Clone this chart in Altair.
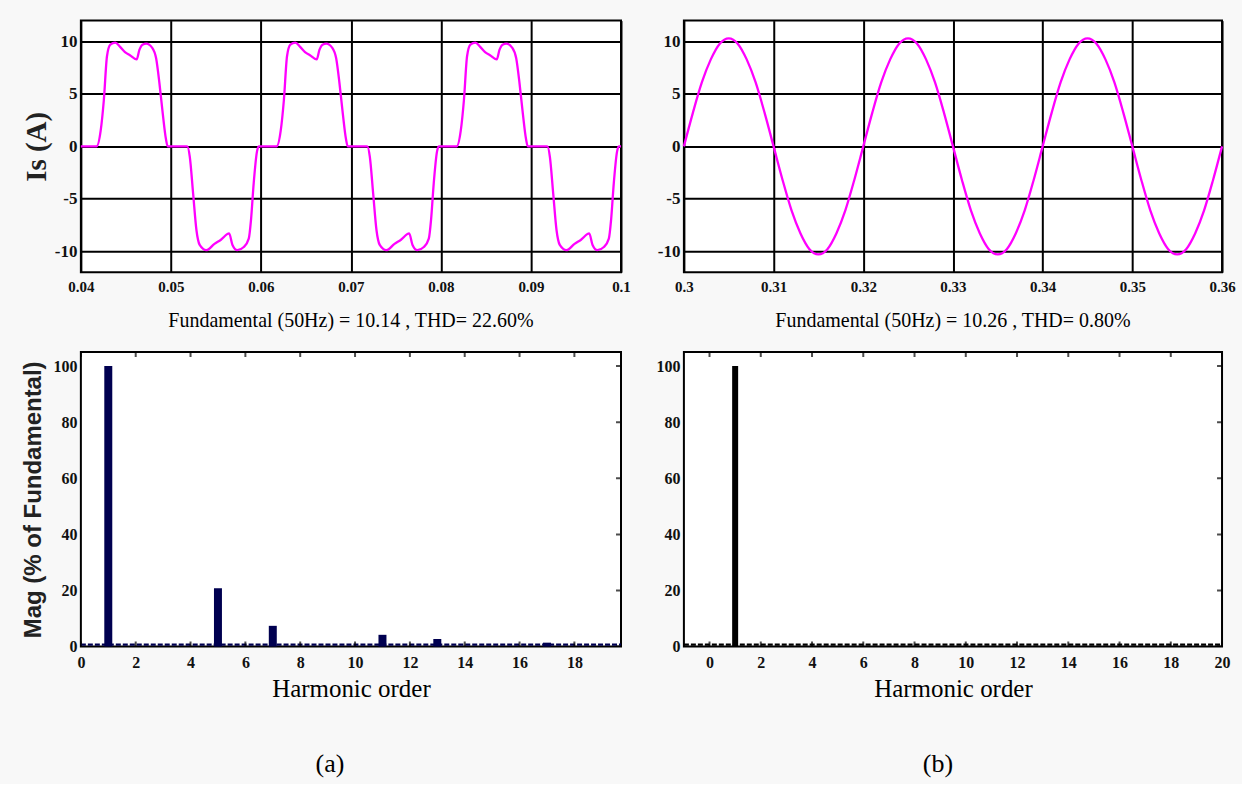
import altair as alt
import pandas as pd
import numpy as np

# ---------------- data ----------------
# (a) source current, one 20 ms period: time offset (s) from period start, current (A)
wave_a_dt = [0.0, 0.00175, 0.0022, 0.00255, 0.0029, 0.00327, 0.00382, 0.00436, 0.0049, 0.00545,
             0.0062, 0.0065, 0.00684, 0.00727, 0.00793, 0.00836, 0.00873, 0.0091, 0.00945, 0.00964,
             0.0100, 0.01182, 0.0121, 0.01247, 0.01284, 0.0132, 0.01393, 0.01484, 0.01556, 0.01647,
             0.01684, 0.01738, 0.0181, 0.01865, 0.0189, 0.0192, 0.01956, 0.01975, 0.0200]
wave_a_i = [0, 0, 1.5, 4.4, 8.6, 9.7, 9.9, 9.5, 9.0, 8.7,
            8.3, 9.2, 9.7, 9.8, 9.4, 8.4, 6.0, 3.1, 0.7, 0,
            0, 0, -1.0, -4.5, -8.0, -9.4, -9.9, -9.3, -8.9, -8.3,
            -9.4, -9.9, -9.6, -8.8, -7.0, -3.5, -0.5, 0, 0]
period_starts_a = [0.04, 0.06, 0.08]

# (b) source current, one period sampled every 1 ms (A)
wave_b_i = [0, 3.2, 6.1, 8.3, 9.8, 10.3, 9.8, 8.3, 6.1, 3.2,
            0, -3.2, -6.1, -8.3, -9.8, -10.3, -9.8, -8.3, -6.1, -3.2]
wave_b_dt = [k * 0.001 for k in range(20)]
period_starts_b = [0.30, 0.32, 0.34]
wave_b_end = (0.36, 0.0)

# harmonic spectra (% of fundamental)
harm_a_order = [1, 5, 7, 11, 13, 17]
harm_a_mag = [100, 20.8, 7.4, 4.2, 2.7, 1.4]
harm_b_order = [1]
harm_b_mag = [100]
floor_a = 0.7          # small residual level drawn as a dashed floor
floor_b = 0.7

titles_top = ["Fundamental (50Hz) = 10.14 , THD= 22.60%", "Fundamental (50Hz) = 10.26 , THD= 0.80%"]
panel_labels = ["(a)", "(b)"]

xticks_a_top = [0.04, 0.05, 0.06, 0.07, 0.08, 0.09, 0.1]
xticks_b_top = [0.3, 0.31, 0.32, 0.33, 0.34, 0.35, 0.36]
yticks_top = [-10, -5, 0, 5, 10]
xticks_a_bot = [0, 2, 4, 6, 8, 10, 12, 14, 16, 18]
xticks_b_bot = [0, 2, 4, 6, 8, 10, 12, 14, 16, 18, 20]
yticks_bot = [0, 20, 40, 60, 80, 100]

# ---------------- build tables ----------------
rows = []
for s in period_starts_a:
    for dt, v in zip(wave_a_dt, wave_a_i):
        rows.append({"t": round(s + dt, 6), "i": v})
df_a = pd.DataFrame(rows)

rows = []
for s in period_starts_b:
    for dt, v in zip(wave_b_dt, wave_b_i):
        rows.append({"t": round(s + dt, 6), "i": v})
rows.append({"t": wave_b_end[0], "i": wave_b_end[1]})
df_b = pd.DataFrame(rows)

SERIF = "Liberation Serif"
LBL = "#111111"
W_L, W_R = 541, 539
H_TOP, H_BOT = 252, 295


def top_panel(df, xdom, xticks, width, ytitle, title):
    xa = alt.Axis(values=xticks, grid=True, gridColor="black", gridWidth=2, gridOpacity=1,
                  ticks=False, domain=False, labelExpr="'' + datum.value", labelFont=SERIF,
                  labelFontWeight="bold", labelFontSize=15, labelColor=LBL, labelPadding=7,
                  labelFlush=False, labelOverlap=False, title=None)
    ya_kwargs = dict(values=yticks_top, grid=True, gridColor="black", gridWidth=2, gridOpacity=1,
                     ticks=False, domain=False, labelExpr="'' + datum.value", labelFont=SERIF,
                     labelFontWeight="bold", labelFontSize=17, labelColor=LBL, labelPadding=4,
                     labelOverlap=False)
    if ytitle:
        ya = alt.Axis(title=ytitle, titleFont=SERIF, titleFontWeight="bold", titleFontSize=29,
                      titleColor="#222222", titlePadding=3, **ya_kwargs)
    else:
        ya = alt.Axis(title=None, **ya_kwargs)
    return alt.Chart(df).mark_line(color="#ff00ff", strokeWidth=2.3, interpolate="monotone").encode(
        x=alt.X("t:Q", scale=alt.Scale(domain=xdom, nice=False, zero=False, padding=0), axis=xa),
        y=alt.Y("i:Q", scale=alt.Scale(domain=[-12, 12], nice=False, padding=0), axis=ya),
    ).properties(width=width, height=H_TOP,
                 title=alt.TitleParams(title, orient="bottom", anchor="middle", frame="group",
                                       offset=17, font=SERIF, fontSize=20, fontWeight="normal",
                                       color="black"))


def bot_panel(orders, mags, floor, xdom, xticks, width, color, barsize, ytitle, label, dx):
    xscale = alt.Scale(domain=xdom, nice=False, zero=False, padding=0)
    yscale = alt.Scale(domain=[0, 105], nice=False, padding=0)
    xa = alt.Axis(values=xticks, grid=False, ticks=False, domain=False, labelFont=SERIF,
                  labelFontWeight="bold", labelFontSize=16, labelColor=LBL, labelPadding=8,
                  labelFlush=False, labelOverlap=False, title="Harmonic order", titleFont=SERIF,
                  titleFontSize=25, titleFontWeight="normal", titleColor="black", titlePadding=6)
    ya_kwargs = dict(values=yticks_bot, grid=False, ticks=False, domain=False, labelFont=SERIF,
                     labelFontWeight="bold", labelFontSize=16, labelColor=LBL, labelPadding=4,
                     labelOverlap=False)
    if ytitle:
        ya = alt.Axis(title=ytitle, titleFont="Liberation Sans", titleFontWeight="bold",
                      titleFontSize=24, titleColor="#222222", titlePadding=7, **ya_kwargs)
    else:
        ya = alt.Axis(title=None, **ya_kwargs)
    X = alt.X("h:Q", scale=xscale, axis=xa)
    Y = alt.Y("v:Q", scale=yscale, axis=ya)

    bars = alt.Chart(pd.DataFrame({"h": orders, "v": mags})).mark_bar(
        size=barsize, color=color).encode(x=X, y=Y)
    floor_df = pd.DataFrame({"h": [xdom[0]], "h2": [xdom[1]], "v": [floor]})
    floor_line = alt.Chart(floor_df).mark_rule(color=color, strokeWidth=2.5, strokeDash=[5, 2]).encode(
        x=X, x2="h2:Q", y=Y)
    tick_x = pd.DataFrame({"h": xticks})
    tick_y = pd.DataFrame({"v": yticks_bot})
    top_ticks = alt.Chart(tick_x).mark_tick(orient="vertical", size=10, thickness=2, color="black",
                                            clip=True).encode(x=X, y=alt.value(0))
    bot_ticks = alt.Chart(tick_x).mark_tick(orient="vertical", size=10, thickness=2, color="black",
                                            clip=True).encode(x=X, y=alt.value(H_BOT))
    right_ticks = alt.Chart(tick_y).mark_tick(orient="horizontal", size=10, thickness=2,
                                              color="black", clip=True).encode(
        y=Y, x=alt.value(width))
    return alt.layer(floor_line, bars, top_ticks, bot_ticks, right_ticks).properties(
        width=width, height=H_BOT,
        title=alt.TitleParams(label, orient="bottom", anchor="middle", frame="group", offset=50,
                              dx=dx, font=SERIF, fontSize=26, fontWeight="normal", color="black"))


tl = top_panel(df_a, [0.04, 0.1], xticks_a_top, W_L, "Is (A)", titles_top[0])
tr = top_panel(df_b, [0.3, 0.36], xticks_b_top, W_R, None, titles_top[1])
bl = bot_panel(harm_a_order, harm_a_mag, floor_a, [0, 19.7], xticks_a_bot, W_L, "#000050", 8,
               "Mag (% of Fundamental)", panel_labels[0], -21)
br = bot_panel(harm_b_order, harm_b_mag, floor_b, [-1, 20], xticks_b_bot, W_R, "#000000", 6,
               None, panel_labels[1], -15)

chart = alt.concat(tl, tr, bl, br, columns=2, spacing={"row": 80, "column": 63},
                   bounds="flush").configure(
    background="#f8f8f8",
    padding={"left": 20, "top": 19, "right": 5, "bottom": 5},
).configure_view(stroke="black", strokeWidth=2, fill="white")

chart.save("out.html", embed_options={"renderer": "svg", "actions": False})
